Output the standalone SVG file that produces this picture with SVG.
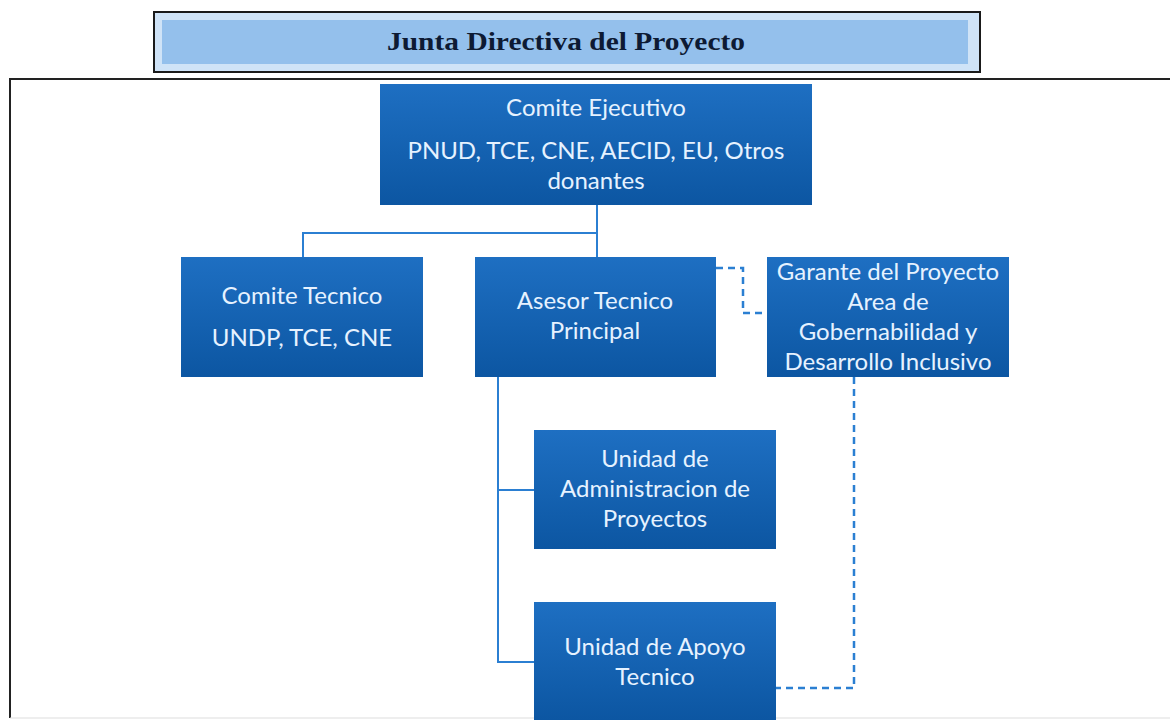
<svg xmlns="http://www.w3.org/2000/svg" width="1170" height="720" viewBox="0 0 1170 720">
<defs>
<linearGradient id="bg" x1="0" y1="0" x2="0" y2="1">
<stop offset="0" stop-color="#1e6fc2"/>
<stop offset="1" stop-color="#0c56a2"/>
</linearGradient>
<style>
.box{fill:url(#bg);}
.t{font-family:Lato,"Open Sans","Liberation Sans",sans-serif;font-size:24px;fill:#e6f2ff;text-anchor:middle;}
.c{fill:none;stroke:#2b7fd2;stroke-width:2;}
.d{fill:none;stroke:#2b7fd2;stroke-width:2.5;stroke-dasharray:7,5;}
</style>
</defs>
<rect width="1170" height="720" fill="#ffffff"/>
<g id="frame">
<path d="M1170,79 H10 V718" fill="none" stroke="#222" stroke-width="2"/>
<line x1="10" y1="718" x2="1170" y2="718" stroke="#ddd" stroke-width="1"/>
</g>
<g id="title">
<rect x="154" y="12" width="826" height="60" fill="#cfe3f7" stroke="#1a1a1a" stroke-width="2"/>
<rect x="162" y="20" width="806" height="44" fill="#94c0ec"/>
<text x="566" y="50" font-family="'Liberation Serif',serif" font-size="25" font-weight="bold" fill="#0d1a33" text-anchor="middle" textLength="358" lengthAdjust="spacingAndGlyphs">Junta Directiva del Proyecto</text>
</g>
<g id="connectors">
<path class="c" d="M597,205 V258 M597,233 H303 V258"/>
<path class="c" d="M498,377 V662 H535 M498,490 H535"/>
<path class="d" d="M716,268 H743 V313 H767"/>
<path class="d" d="M854,377 V688 H776"/>
</g>
<g id="comite-ejecutivo">
<rect class="box" x="380" y="84" width="432" height="121"/>
<text class="t" x="596" y="116">Comite Ejecutivo</text>
<text class="t" x="596" y="159">PNUD, TCE, CNE, AECID, EU, Otros</text>
<text class="t" x="596" y="189">donantes</text>
</g>
<g id="comite-tecnico">
<rect class="box" x="181" y="257" width="242" height="120"/>
<text class="t" x="302" y="304">Comite Tecnico</text>
<text class="t" x="302" y="346">UNDP, TCE, CNE</text>
</g>
<g id="asesor">
<rect class="box" x="475" y="257" width="241" height="120"/>
<text class="t" x="595" y="309">Asesor Tecnico</text>
<text class="t" x="595" y="339">Principal</text>
</g>
<g id="garante">
<rect class="box" x="767" y="257" width="242" height="120"/>
<text class="t" x="888" y="280">Garante del Proyecto</text>
<text class="t" x="888" y="310">Area de</text>
<text class="t" x="888" y="340">Gobernabilidad y</text>
<text class="t" x="888" y="370">Desarrollo Inclusivo</text>
</g>
<g id="unidad-admin">
<rect class="box" x="534" y="430" width="242" height="119"/>
<text class="t" x="655" y="467">Unidad de</text>
<text class="t" x="655" y="497">Administracion de</text>
<text class="t" x="655" y="527">Proyectos</text>
</g>
<g id="unidad-apoyo">
<rect class="box" x="534" y="602" width="242" height="118"/>
<text class="t" x="655" y="655">Unidad de Apoyo</text>
<text class="t" x="655" y="685">Tecnico</text>
</g>
</svg>
